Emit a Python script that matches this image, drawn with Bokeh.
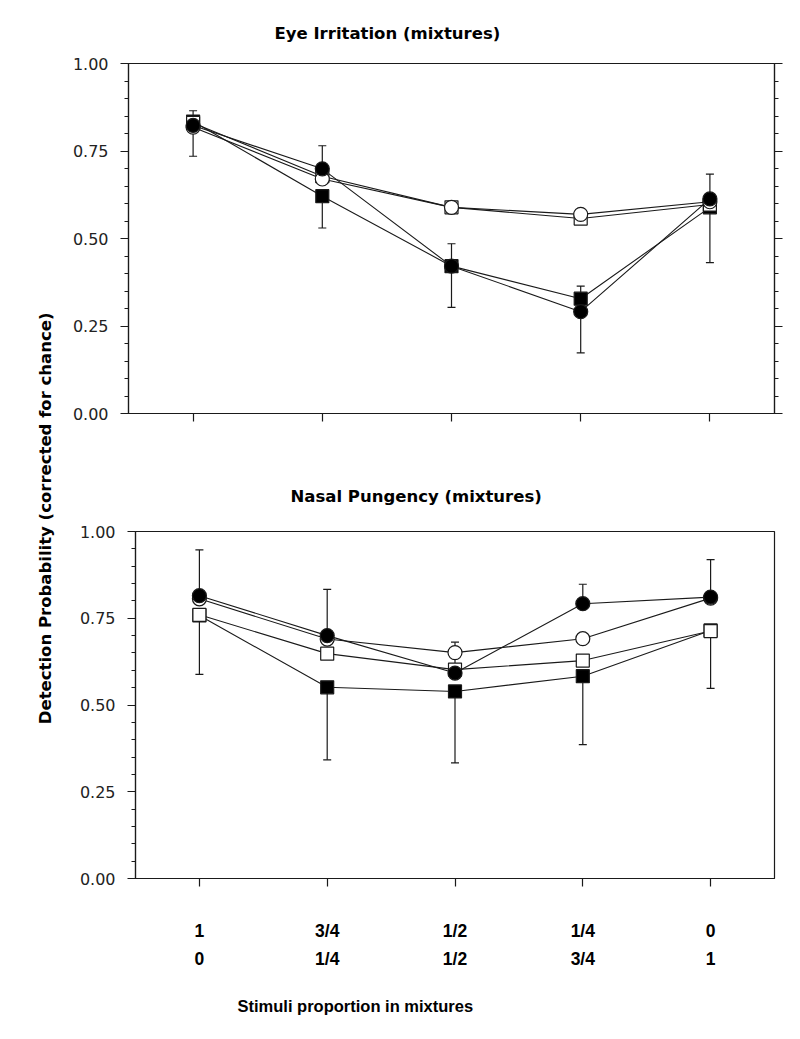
import math

from bokeh.plotting import figure
from bokeh.models import (ColumnDataSource, FixedTicker, LinearAxis, Range1d,
                          Whisker, TeeHead, PrintfTickFormatter, Title)
from bokeh.layouts import row, column
from bokeh.embed import file_html
from bokeh.resources import INLINE
from bokeh.core.properties import value

# Data
stimuli_x = [1, 2, 3, 4, 5]
stimuli_labels = ["1\n0", "3/4\n1/4", "1/2\n1/2", "1/4\n3/4", "0\n1"]
y_major = [0.0, 0.25, 0.5, 0.75, 1.0]
y_minor = [0.05, 0.10, 0.15, 0.20, 0.30, 0.35, 0.40, 0.45,
           0.55, 0.60, 0.65, 0.70, 0.80, 0.85, 0.90, 0.95]

eye_filled_circle = [0.823, 0.699, 0.421, 0.291, 0.613]
eye_open_circle = [0.818, 0.670, 0.589, 0.569, 0.605]
eye_open_square = [0.830, 0.678, 0.589, 0.557, 0.597]
eye_filled_square = [0.834, 0.621, 0.421, 0.328, 0.589]
eye_err_top = [0.865, 0.765, 0.485, 0.364, 0.684]
eye_err_bottom = [0.735, 0.530, 0.303, 0.173, 0.431]

nasal_filled_circle = [0.815, 0.700, 0.592, 0.792, 0.811]
nasal_open_circle = [0.806, 0.690, 0.651, 0.691, 0.808]
nasal_open_square = [0.760, 0.648, 0.602, 0.628, 0.713]
nasal_filled_square = [0.758, 0.551, 0.539, 0.583, 0.715]
nasal_err_top = [0.947, 0.833, 0.681, 0.848, 0.919]
nasal_err_bottom = [0.588, 0.342, 0.333, 0.386, 0.548]

INK = "#1a1a1a"
TICK_FONT = "DejaVu Sans"
LABEL_FONT = "Liberation Sans"


def style_y_axis(axis, show_labels=True):
    axis.ticker = FixedTicker(ticks=y_major, minor_ticks=y_minor)
    axis.formatter = PrintfTickFormatter(format="%.2f")
    axis.axis_line_color = INK
    axis.axis_line_width = 1.2
    axis.major_tick_line_color = INK
    axis.major_tick_line_width = 1.2
    axis.major_tick_in = 0
    axis.major_tick_out = 8
    axis.minor_tick_line_color = INK
    axis.minor_tick_line_width = 1
    axis.minor_tick_in = 0
    axis.minor_tick_out = 4
    axis.major_label_text_font = TICK_FONT
    if show_labels:
        axis.major_label_standoff = 12
        axis.major_label_text_color = "#222222"
        axis.major_label_text_font_size = "16px"
    else:
        axis.major_label_standoff = 0
        axis.major_label_text_color = None
        axis.major_label_text_font_size = "0px"


def style_x_axis(axis):
    axis.ticker = FixedTicker(ticks=stimuli_x)
    axis.axis_line_color = INK
    axis.axis_line_width = 1.2
    axis.major_tick_line_color = INK
    axis.major_tick_line_width = 1.2
    axis.major_tick_in = 0
    axis.major_tick_out = 8
    axis.minor_tick_line_color = None


def make_panel(title, series, err_top, err_bottom, height, border_left,
               border_top, border_bottom, title_offset, title_standoff):
    p = figure(width=740, height=height, x_range=Range1d(0.5, 5.5),
               y_range=Range1d(0, 1), output_backend="svg",
               toolbar_location=None, tools="",
               min_border_left=border_left, min_border_right=26,
               min_border_top=border_top, min_border_bottom=border_bottom)
    p.grid.visible = False
    p.outline_line_color = INK
    p.outline_line_width = 1.2
    p.background_fill_color = "white"
    p.border_fill_color = "white"

    p.title.text = title
    p.title.align = "left"
    p.title.offset = title_offset
    p.title.standoff = title_standoff
    p.title.text_font = "DejaVu Sans"
    p.title.text_font_style = "bold"
    p.title.text_font_size = "16.5px"
    p.title.text_color = "black"

    style_y_axis(p.yaxis[0])
    style_x_axis(p.xaxis[0])

    filled_circle, open_circle, open_square, filled_square = series

    # error bars: upward on the filled circles, downward on the filled squares
    up_src = ColumnDataSource(dict(x=stimuli_x, lo=filled_circle, hi=err_top))
    down_src = ColumnDataSource(dict(x=stimuli_x, lo=err_bottom, hi=filled_square))
    up = Whisker(source=up_src, base="x", lower="lo", upper="hi",
                 dimension="height", line_color=INK, line_width=1.2,
                 lower_head=None,
                 upper_head=TeeHead(size=8, line_color=INK, line_width=1.2),
                 level="underlay")
    down = Whisker(source=down_src, base="x", lower="lo", upper="hi",
                   dimension="height", line_color=INK, line_width=1.2,
                   upper_head=None,
                   lower_head=TeeHead(size=8, line_color=INK, line_width=1.2),
                   level="underlay")
    p.add_layout(up)
    p.add_layout(down)

    for ys in (filled_square, open_square, open_circle, filled_circle):
        p.line(stimuli_x, ys, line_color=INK, line_width=1.1)

    p.scatter(stimuli_x, filled_square, marker="square", size=13,
              fill_color="black", line_color=INK, line_width=1.2)
    p.scatter(stimuli_x, open_square, marker="square", size=13,
              fill_color="white", line_color=INK, line_width=1.2)
    p.scatter(stimuli_x, open_circle, marker="circle", size=14,
              fill_color="white", line_color=INK, line_width=1.2)
    p.scatter(stimuli_x, filled_circle, marker="circle", size=14,
              fill_color="black", line_color=INK, line_width=1.2)
    return p


eye = make_panel("Eye Irritation (mixtures)",
                 (eye_filled_circle, eye_open_circle, eye_open_square, eye_filled_square),
                 eye_err_top, eye_err_bottom,
                 height=450, border_left=68, border_top=63, border_bottom=37,
                 title_offset=146, title_standoff=41)
eye.xaxis.major_label_text_font_size = "0px"
eye.xaxis.major_label_text_color = None
eye.xaxis.major_label_standoff = 0
right_axis = LinearAxis()
eye.add_layout(right_axis, "right")
style_y_axis(right_axis, show_labels=False)

nasal = make_panel("Nasal Pungency (mixtures)",
                   (nasal_filled_circle, nasal_open_circle, nasal_open_square, nasal_filled_square),
                   nasal_err_top, nasal_err_bottom,
                   height=589, border_left=75, border_top=81, border_bottom=161,
                   title_offset=155, title_standoff=52)
xa = nasal.xaxis[0]
xa.major_label_overrides = {x: lab for x, lab in zip(stimuli_x, stimuli_labels)}
xa.major_label_standoff = 34
xa.major_label_text_font = LABEL_FONT
xa.major_label_text_font_style = "bold"
xa.major_label_text_font_size = "17.5px"
xa.major_label_text_line_height = 1.4
xa.major_label_text_color = "black"

# x-axis caption, placed left of centre as in the original
caption = Title(text="Stimuli proportion in mixtures", align="left", offset=102,
                standoff=46, text_font=LABEL_FONT, text_font_style="bold",
                text_font_size="16.5px", text_color="black")
nasal.add_layout(caption, "below")

# shared y-axis label in a thin strip on the left
strip_h = 1039
label_strip = figure(width=60, height=strip_h, x_range=Range1d(0, 60),
                     y_range=Range1d(0, strip_h), output_backend="svg",
                     toolbar_location=None, tools="",
                     x_axis_location=None, y_axis_location=None,
                     min_border=0)
label_strip.grid.visible = False
label_strip.outline_line_color = None
label_strip.text(x=[45], y=[strip_h - 515],
                 text=["Detection Probability  (corrected for chance)"],
                 angle=math.pi / 2, text_align="center", text_baseline="middle",
                 text_font=value("DejaVu Sans"), text_font_style="bold",
                 text_font_size="16.5px", text_color="black")

layout = row(label_strip, column(row(eye), row(nasal)))

open("out.html", "w").write(file_html(layout, INLINE))
